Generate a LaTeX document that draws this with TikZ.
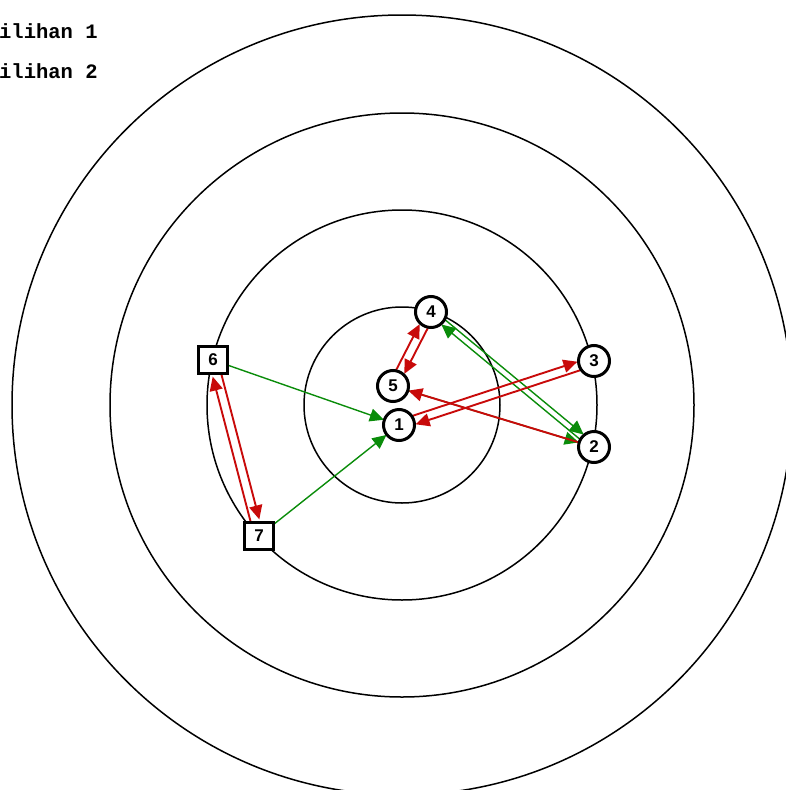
\documentclass[tikz,border=0pt]{standalone}
\usepackage{fontspec}
\setmainfont{Liberation Sans}
\newfontfamily\monofont{Liberation Mono}
\usetikzlibrary{arrows.meta,calc}
\definecolor{arrgreen}{RGB}{10,140,10}
\definecolor{arrred}{RGB}{200,10,10}
\tikzset{
  ring/.style={draw=black,line width=1.5pt},
  cnode/.style={circle,draw=black,fill=white,line width=3pt,minimum size=31pt,inner sep=0pt,font=\fontsize{17}{17}\selectfont\bfseries},
  snode/.style={rectangle,draw=black,fill=white,line width=3pt,minimum width=29pt,minimum height=27pt,inner sep=0pt,font=\fontsize{17}{17}\selectfont\bfseries},
  garr/.style={draw=arrgreen,line width=1.4pt,-{Triangle[length=14pt,width=13pt]},arrgreen},
  rarr/.style={draw=arrred,line width=1.9pt,-{Triangle[length=14pt,width=13pt]},arrred},
  lbl/.style={anchor=base west,inner sep=0pt,font=\monofont\bfseries\fontsize{20.5}{20.5}\selectfont}
}
\begin{document}
\begin{tikzpicture}[x=1pt,y=-1pt]
\useasboundingbox (0,0) rectangle (785,790);
\coordinate (c) at (402,405);
\draw[ring] (c) circle (98);
\draw[ring] (c) circle (195);
\draw[ring] (c) circle (292);
\draw[ring] (c) circle (390);
\node[lbl] (t1) at (-1,38) {ilihan 1};
\node[lbl] (t2) at (-1,78) {ilihan 2};
% node positions
\coordinate (p1) at (399,425);
\coordinate (p2) at (594,447);
\coordinate (p3) at (594,361);
\coordinate (p4) at (431,312);
\coordinate (p5) at (393,386);
\coordinate (p6) at (213,360);
\coordinate (p7) at (259,536);
% green arrows
\draw[garr,shorten <=16pt,shorten >=16pt] (p6) -- (p1);
\draw[garr,shorten <=16pt,shorten >=16pt] (p7) -- (p1);
\draw[garr,shorten <=16pt,shorten >=16pt] (p5) -- (p2);
\draw[garr,shorten <=16pt,shorten >=16pt] ($(p4)!3pt!90:(p2)$) -- ($(p2)!3pt!-90:(p4)$);
\draw[garr,shorten <=16pt,shorten >=16pt] ($(p2)!3pt!90:(p4)$) -- ($(p4)!3pt!-90:(p2)$);
% red arrows
\draw[rarr,shorten <=16pt,shorten >=16pt] (p2) -- (p5);
\draw[rarr,shorten <=16pt,shorten >=16pt] ($(p1)!4.5pt!90:(p3)$) -- ($(p3)!4.5pt!-90:(p1)$);
\draw[rarr,shorten <=16pt,shorten >=16pt] ($(p3)!4.5pt!90:(p1)$) -- ($(p1)!4.5pt!-90:(p3)$);
\draw[rarr,shorten <=16pt,shorten >=16pt] ($(p4)!4.5pt!90:(p5)$) -- ($(p5)!4.5pt!-90:(p4)$);
\draw[rarr,shorten <=16pt,shorten >=16pt] ($(p5)!4.5pt!90:(p4)$) -- ($(p4)!4.5pt!-90:(p5)$);
\draw[rarr,shorten <=16pt,shorten >=16pt] ($(p6)!4.5pt!90:(p7)$) -- ($(p7)!4.5pt!-90:(p6)$);
\draw[rarr,shorten <=16pt,shorten >=16pt] ($(p7)!4.5pt!90:(p6)$) -- ($(p6)!4.5pt!-90:(p7)$);
% nodes
\node[cnode] (n1) at (p1) {1};
\node[cnode] (n2) at (p2) {2};
\node[cnode] (n3) at (p3) {3};
\node[cnode] (n4) at (p4) {4};
\node[cnode] (n5) at (p5) {5};
\node[snode] (n6) at (p6) {6};
\node[snode] (n7) at (p7) {7};
\end{tikzpicture}
\end{document}
